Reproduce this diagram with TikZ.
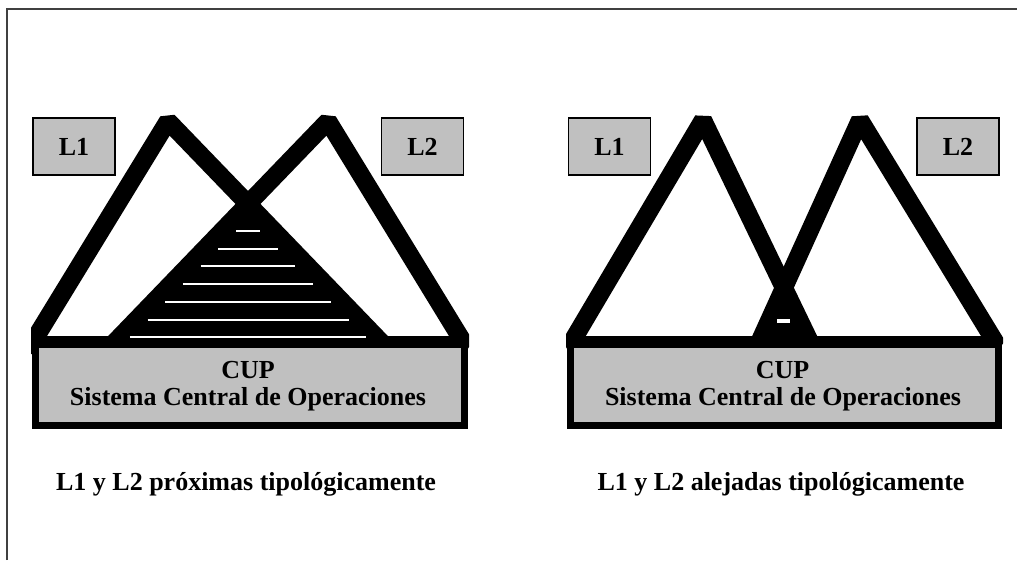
\documentclass[tikz,border=0pt]{standalone}
\usepackage{fontspec}
\setmainfont{Liberation Serif}
\definecolor{boxgray}{HTML}{C0C0C0}
\tikzset{
  tri/.style={line width=18pt, line join=bevel},
  cupbox/.style={draw=black, line width=7pt, fill=boxgray},
  lbox/.style={draw=black, line width=1.2pt, fill=boxgray, minimum width=82pt, minimum height=57pt, inner sep=0pt, font=\fontsize{26}{30}\selectfont\bfseries},
  txt/.style={font=\fontsize{26}{30}\selectfont\bfseries, anchor=base, inner sep=0pt}
}
\begin{document}
\begin{tikzpicture}[x=1pt,y=-1pt]
\useasboundingbox (0,0) rectangle (1017,560);
\draw[line width=1.5pt, black!75] (7,560) -- (7,9) -- (1017,9);

% proximas
\begin{scope}
  \clip (31,0) rectangle (469,560);
  \fill (248,203) -- (112,345) -- (384,345) -- cycle;
  \draw[tri] (168,121) -- (31,345) -- (384,345) -- cycle;
  \draw[tri] (328,121) -- (112,345) -- (465,345) -- cycle;
\end{scope}
\foreach \i in {0,...,6}{
  \pgfmathsetmacro\yy{231+17.7*\i}
  \pgfmathsetmacro\hw{\yy-203-16}
  \draw[white, line width=2pt] (248-\hw,\yy) -- (248+\hw,\yy);
}
\draw[cupbox] (35,344) rectangle (464,425);
\node[lbox] (l1a) at (74,146.5) {L1};
\node[lbox] (l2a) at (422.5,146.5) {L2};
\node[txt] (cupa) at (248,378) {CUP};
\node[txt] (sisa) at (248,405) {Sistema Central de Operaciones};
\node[txt] (capa) at (246,490) {L1 y L2 próximas tipológicamente};

% alejadas
\begin{scope}
  \clip (566,0) rectangle (1003,560);
  \fill (784,287.6) -- (758,345) -- (811.5,345) -- cycle;
  \draw[tri] (703,120) -- (570,345) -- (811.5,345) -- cycle;
  \draw[tri] (860,120) -- (758,345) -- (997,345) -- cycle;
\end{scope}
\draw[white, line width=4pt] (777,320.5) -- (790,320.5);
\draw[cupbox] (570,344) rectangle (998,425);
\node[lbox] (l1b) at (609.5,146.5) {L1};
\node[lbox] (l2b) at (958,146.5) {L2};
\node[txt] (cupb) at (782.5,378) {CUP};
\node[txt] (sisb) at (783,405) {Sistema Central de Operaciones};
\node[txt] (capb) at (781,490) {L1 y L2 alejadas tipológicamente};
\end{tikzpicture}
\end{document}
